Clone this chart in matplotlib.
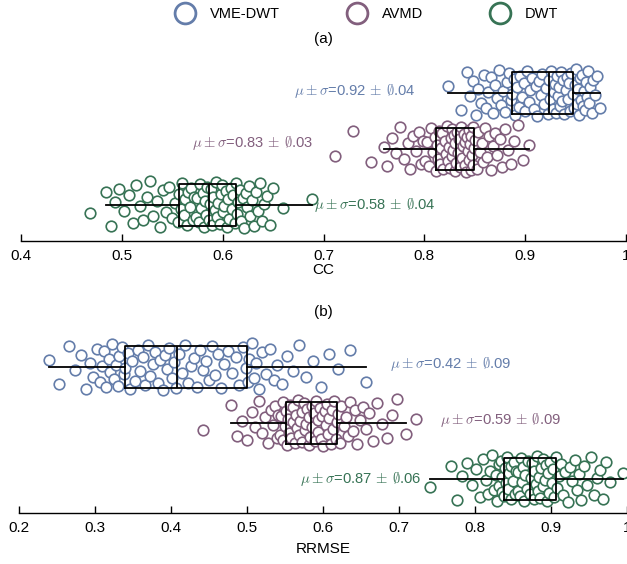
import numpy as np
import matplotlib
matplotlib.use("Agg")
import matplotlib.pyplot as plt
from matplotlib.lines import Line2D

plt.rcParams['font.family'] = ['Liberation Sans', 'DejaVu Sans']
plt.rcParams['mathtext.fontset'] = 'cm'

methods = ['VME-DWT', 'AVMD', 'DWT']
colors = ['#647daa', '#825f7d', '#377355']

# CC values (panel a)
cc_vme = [0.823, 0.836, 0.842, 0.845, 0.848, 0.851, 0.853, 0.856, 0.859, 0.861, 0.863,
          0.866, 0.868, 0.870, 0.872, 0.874, 0.876, 0.878, 0.880, 0.882, 0.884, 0.886,
          0.887, 0.889, 0.890, 0.892, 0.894, 0.895, 0.897, 0.899, 0.900, 0.902, 0.904,
          0.905, 0.907, 0.909, 0.911, 0.912, 0.914, 0.916, 0.917, 0.919, 0.921, 0.923,
          0.924, 0.925, 0.926, 0.928, 0.929, 0.930, 0.931, 0.932, 0.933, 0.934, 0.935,
          0.936, 0.937, 0.938, 0.939, 0.940, 0.941, 0.942, 0.943, 0.944, 0.945, 0.947,
          0.948, 0.949, 0.950, 0.951, 0.952, 0.953, 0.954, 0.955, 0.956, 0.957, 0.958,
          0.959, 0.960, 0.961, 0.962, 0.963, 0.964, 0.966, 0.967, 0.969, 0.971, 0.974]
cc_avmd = [0.711, 0.729, 0.747, 0.760, 0.763, 0.768, 0.772, 0.776, 0.780, 0.784, 0.786,
           0.789, 0.792, 0.795, 0.797, 0.799, 0.801, 0.803, 0.805, 0.807, 0.809, 0.811,
           0.812, 0.813, 0.814, 0.815, 0.816, 0.817, 0.818, 0.819, 0.820, 0.821, 0.822,
           0.823, 0.824, 0.825, 0.826, 0.827, 0.827, 0.828, 0.829, 0.830, 0.830, 0.831,
           0.832, 0.833, 0.834, 0.835, 0.836, 0.837, 0.838, 0.839, 0.840, 0.840, 0.841,
           0.842, 0.843, 0.844, 0.844, 0.845, 0.846, 0.846, 0.847, 0.848, 0.848, 0.849,
           0.850, 0.852, 0.853, 0.855, 0.857, 0.858, 0.860, 0.862, 0.864, 0.866, 0.868,
           0.870, 0.872, 0.875, 0.877, 0.880, 0.883, 0.886, 0.889, 0.893, 0.898, 0.904]
cc_dwt = [0.468, 0.484, 0.489, 0.493, 0.497, 0.502, 0.507, 0.511, 0.514, 0.518, 0.521,
          0.525, 0.528, 0.531, 0.535, 0.538, 0.541, 0.544, 0.547, 0.550, 0.553, 0.556,
          0.557, 0.559, 0.560, 0.562, 0.563, 0.565, 0.566, 0.568, 0.569, 0.571, 0.572,
          0.574, 0.575, 0.577, 0.578, 0.579, 0.580, 0.581, 0.582, 0.583, 0.584, 0.586,
          0.587, 0.588, 0.589, 0.590, 0.592, 0.593, 0.594, 0.595, 0.597, 0.598, 0.599,
          0.600, 0.601, 0.603, 0.604, 0.605, 0.606, 0.608, 0.609, 0.610, 0.612, 0.613,
          0.614, 0.615, 0.617, 0.618, 0.620, 0.621, 0.623, 0.624, 0.626, 0.627, 0.629,
          0.631, 0.633, 0.635, 0.637, 0.639, 0.641, 0.644, 0.647, 0.650, 0.660, 0.689]

# RRMSE values (panel b)
rr_vme = [0.239, 0.252, 0.266, 0.274, 0.281, 0.288, 0.293, 0.298, 0.302, 0.306, 0.309,
          0.312, 0.315, 0.318, 0.320, 0.322, 0.325, 0.327, 0.330, 0.332, 0.335, 0.338,
          0.340, 0.343, 0.346, 0.349, 0.352, 0.356, 0.359, 0.363, 0.366, 0.370, 0.373,
          0.376, 0.379, 0.383, 0.386, 0.389, 0.392, 0.395, 0.398, 0.401, 0.404, 0.407,
          0.410, 0.414, 0.418, 0.422, 0.426, 0.430, 0.434, 0.438, 0.442, 0.446, 0.450,
          0.454, 0.458, 0.462, 0.466, 0.470, 0.475, 0.480, 0.485, 0.490, 0.495, 0.499,
          0.501, 0.503, 0.506, 0.509, 0.512, 0.516, 0.520, 0.525, 0.530, 0.535, 0.540,
          0.546, 0.552, 0.560, 0.568, 0.577, 0.587, 0.597, 0.608, 0.620, 0.635, 0.657]
rr_avmd = [0.442, 0.479, 0.487, 0.494, 0.500, 0.506, 0.511, 0.516, 0.520, 0.524, 0.528,
           0.531, 0.534, 0.537, 0.539, 0.541, 0.543, 0.545, 0.547, 0.548, 0.550, 0.551,
           0.552, 0.554, 0.555, 0.557, 0.558, 0.560, 0.561, 0.563, 0.564, 0.566, 0.567,
           0.569, 0.570, 0.572, 0.573, 0.575, 0.576, 0.578, 0.579, 0.581, 0.582, 0.583,
           0.585, 0.586, 0.588, 0.589, 0.591, 0.593, 0.594, 0.596, 0.597, 0.599, 0.600,
           0.602, 0.604, 0.605, 0.607, 0.608, 0.610, 0.612, 0.613, 0.615, 0.617, 0.618,
           0.620, 0.622, 0.624, 0.627, 0.630, 0.633, 0.636, 0.639, 0.642, 0.645, 0.649,
           0.653, 0.657, 0.661, 0.666, 0.671, 0.677, 0.684, 0.691, 0.698, 0.709, 0.723]
rr_dwt = [0.741, 0.768, 0.776, 0.783, 0.790, 0.796, 0.801, 0.806, 0.810, 0.814, 0.817,
          0.820, 0.823, 0.825, 0.827, 0.829, 0.831, 0.832, 0.834, 0.835, 0.836, 0.838,
          0.839, 0.841, 0.842, 0.844, 0.845, 0.847, 0.848, 0.850, 0.851, 0.853, 0.854,
          0.856, 0.857, 0.859, 0.860, 0.862, 0.863, 0.865, 0.866, 0.868, 0.870, 0.872,
          0.874, 0.875, 0.877, 0.878, 0.880, 0.881, 0.883, 0.884, 0.886, 0.887, 0.889,
          0.890, 0.892, 0.893, 0.895, 0.896, 0.898, 0.899, 0.901, 0.902, 0.904, 0.906,
          0.908, 0.910, 0.913, 0.916, 0.919, 0.922, 0.925, 0.928, 0.931, 0.934, 0.937,
          0.940, 0.944, 0.948, 0.952, 0.956, 0.960, 0.964, 0.968, 0.972, 0.977, 0.995]

# vertical scatter offsets
jitter = [0.12, -0.31, 0.38, -0.05, 0.22, -0.40, 0.07, -0.18, 0.33, -0.27,
          0.01, 0.29, -0.36, 0.15, -0.09, 0.41, -0.22, 0.04, -0.34, 0.19,
          0.36, -0.13, -0.02, 0.25, -0.39, 0.10, -0.25, 0.31, -0.07, 0.17,
          -0.33, 0.39, -0.16, 0.06, 0.27, -0.29, 0.13, -0.41, 0.21, -0.03,
          0.34, -0.20, 0.09, -0.37, 0.24, -0.11, 0.40, -0.28, 0.02, 0.16,
          -0.35, 0.30, -0.06, 0.11, -0.24, 0.37, -0.15, 0.23, -0.38, 0.05,
          0.28, -0.10, 0.18, -0.32, 0.35, -0.01, -0.26, 0.14, 0.42, -0.19,
          0.08, -0.39, 0.26, -0.12, 0.32, -0.23, 0.03, -0.30, 0.20, -0.08,
          0.39, -0.17, 0.11, -0.36, 0.23, -0.04, 0.30, -0.27, 0.15, -0.21]

cc_labels = [r'$\mu\pm\sigma$=0.92$\,\pm\,\emptyset$.04',
             r'$\mu\pm\sigma$=0.83$\,\pm\,\emptyset$.03',
             r'$\mu\pm\sigma$=0.58$\,\pm\,\emptyset$.04']
rr_labels = [r'$\mu\pm\sigma$=0.42$\,\pm\,\emptyset$.09',
             r'$\mu\pm\sigma$=0.59$\,\pm\,\emptyset$.09',
             r'$\mu\pm\sigma$=0.87$\,\pm\,\emptyset$.06']

fig = plt.figure(figsize=(6.27, 5.64), dpi=100)
ax1 = fig.add_axes([21 / 627, 1 - 241 / 564, 605 / 627, 181 / 564])
ax2 = fig.add_axes([19 / 627, 1 - 513 / 564, 608 / 627, 183 / 564])


def panel(ax, groups, labels, text_pos, xlim, ticks, xlabel):
    pos = [3, 2, 1]
    for k, (vals, c) in enumerate(zip(groups, colors)):
        j = np.roll(jitter, 17 * k)[:len(vals)]
        ax.scatter(vals, pos[k] + j, s=58, facecolors='white', edgecolors=c,
                   linewidths=1.2, zorder=2)
    ax.boxplot(groups, positions=pos, orientation='horizontal', widths=0.75,
               whis=1.5, showfliers=False, showcaps=False,
               boxprops=dict(color='black', linewidth=1.3),
               whiskerprops=dict(color='black', linewidth=1.3),
               medianprops=dict(color='black', linewidth=1.3),
               patch_artist=False, zorder=3)
    for k, (lab, c) in enumerate(zip(labels, colors)):
        x, y, ha = text_pos[k]
        ax.text(x, y, lab, color=c, fontsize=10.6, ha=ha, va='center', zorder=4)
    ax.set_xlim(*xlim)
    ax.set_xticks(ticks)
    ax.set_xticklabels(['1' if t == 1 else f'{t:g}' for t in ticks])
    ax.set_yticks([])
    for s in ['left', 'right', 'top']:
        ax.spines[s].set_visible(False)
    ax.spines['bottom'].set_linewidth(1.0)
    ax.tick_params(axis='x', direction='in', length=5, width=1, labelsize=11, pad=6)
    ax.set_xlabel(xlabel, fontsize=11)
    ax.patch.set_alpha(0)


panel(ax1, [cc_vme, cc_avmd, cc_dwt], cc_labels,
      [(0.791, 3.03, 'right'), (0.690, 2.1, 'right'), (0.691, 1.0, 'left')],
      (0.4, 1.0), [0.4, 0.5, 0.6, 0.7, 0.8, 0.9, 1], 'CC')
ax1.set_ylim(0.357, 3.589)
ax1.xaxis.labelpad = 0

panel(ax2, [rr_vme, rr_avmd, rr_dwt], rr_labels,
      [(0.688, 3.05, 'left'), (0.754, 2.05, 'left'), (0.730, 1.0, 'right')],
      (0.2, 1.0), [0.2, 0.3, 0.4, 0.5, 0.6, 0.7, 0.8, 0.9, 1], 'RRMSE')
ax2.set_ylim(0.393, 3.661)
ax2.xaxis.labelpad = 5

fig.text(323 / 627, 1 - 39 / 564, '(a)', fontsize=11, ha='center', va='center')
fig.text(323 / 627, 1 - 312 / 564, '(b)', fontsize=11, ha='center', va='center')

handles = [Line2D([], [], ls='none', marker='o', markersize=15, markerfacecolor='white',
                  markeredgecolor=c, markeredgewidth=2) for c in colors]
fig.legend(handles, methods, loc='center', bbox_to_anchor=(368 / 627, 1 - 14 / 564),
           ncol=3, frameon=False, fontsize=10.5, handlelength=1.0, handletextpad=1.2,
           columnspacing=4.8)

fig.savefig('out.png', dpi=100)
